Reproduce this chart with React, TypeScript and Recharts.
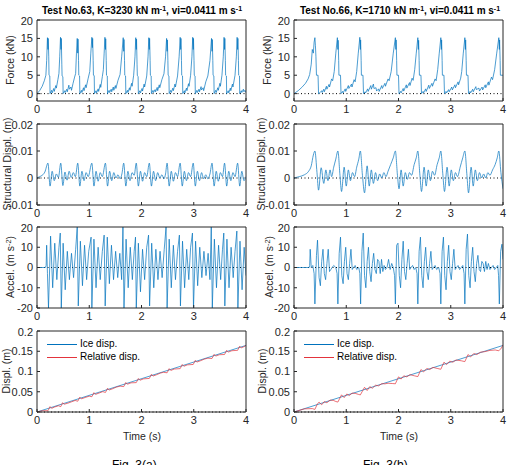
import { LineChart, Line, XAxis, YAxis, ReferenceLine } from "recharts"

type Pt = [number, number]

const FONT = "'Liberation Sans', Arial, sans-serif"
const BLUE = "#0072BD"
const RED = "#e3343c"
const AXIS = "#262626"

const T_TICKS = [0, 1, 2, 3, 4]
const FORCE_TICKS = [0, 5, 10, 15, 20]
const SDISP_TICKS = [-0.01, 0, 0.01, 0.02]
const ACC_TICKS = [-20, -10, 0, 10, 20]
const DISP_TICKS = [0, 0.05, 0.1, 0.15, 0.2]

// Test No.63 (left column)
const force63: Pt[] = [
  [0, 0], [0.05, 0.8], [0.1, 2], [0.14, 3.5], [0.17, 5], [0.185, 9], [0.2, 15.2], [0.21, 12], [0.215, 15], [0.225, 10], [0.23, 5], [0.245, 4.8], [0.25, 0],
  [0.28, 0.9], [0.29, 0.2], [0.32, 1.4], [0.33, 0.6], [0.36, 2.2], [0.37, 1.5], [0.4, 3.8], [0.42, 5.5], [0.435, 10], [0.45, 15.3], [0.46, 12], [0.465, 15], [0.475, 8], [0.48, 4.8], [0.495, 4.6], [0.5, 0],
  [0.53, 0.8], [0.54, 0.3], [0.57, 1.2], [0.58, 0.5], [0.61, 2.3], [0.62, 1.2], [0.65, 1.8], [0.66, 0.9], [0.69, 2.8], [0.72, 4.5], [0.74, 5.5], [0.755, 11], [0.77, 15], [0.78, 11], [0.785, 14.8], [0.795, 9], [0.8, 5], [0.815, 4.8], [0.82, 0],
  [0.85, 0.9], [0.86, 0.3], [0.89, 1.6], [0.9, 0.8], [0.93, 2.4], [0.94, 1.6], [0.98, 4.2], [1.01, 6], [1.03, 11], [1.05, 15.3], [1.06, 12.5], [1.065, 15], [1.075, 9], [1.08, 5], [1.095, 4.9], [1.1, 0],
  [1.13, 0.8], [1.14, 0.2], [1.17, 1.3], [1.18, 0.6], [1.21, 2.5], [1.22, 1.7], [1.25, 4.6], [1.27, 6.5], [1.285, 11], [1.3, 15.3], [1.31, 12], [1.315, 14.9], [1.325, 9], [1.33, 5], [1.345, 4.8], [1.35, 0],
  [1.38, 0.9], [1.39, 0.3], [1.42, 1.2], [1.43, 0.5], [1.46, 1.8], [1.47, 0.9], [1.5, 2.2], [1.51, 1.4], [1.55, 3.6], [1.59, 5.2], [1.62, 10], [1.65, 15.2], [1.66, 11.5], [1.665, 14.7], [1.675, 9], [1.68, 5], [1.695, 4.8], [1.7, 0],
  [1.73, 0.9], [1.74, 0.3], [1.77, 1.6], [1.78, 0.9], [1.81, 2.8], [1.82, 2], [1.85, 5], [1.875, 10], [1.89, 15.2], [1.9, 12], [1.905, 14.8], [1.915, 8], [1.92, 4.9], [1.935, 4.7], [1.94, 0],
  [1.97, 0.8], [1.98, 0.2], [2.01, 1.4], [2.02, 0.7], [2.05, 2.6], [2.06, 1.8], [2.1, 4.8], [2.125, 10], [2.14, 15.2], [2.15, 12], [2.155, 15], [2.165, 9], [2.17, 5], [2.185, 4.8], [2.19, 0],
  [2.22, 0.9], [2.23, 0.3], [2.26, 1.1], [2.27, 0.5], [2.3, 1.7], [2.31, 0.8], [2.34, 2.4], [2.35, 1.6], [2.39, 3.8], [2.43, 5.4], [2.46, 10], [2.48, 15], [2.49, 11.5], [2.495, 14.6], [2.505, 9], [2.51, 5], [2.525, 4.8], [2.53, 0],
  [2.56, 0.9], [2.57, 0.3], [2.6, 1.5], [2.61, 0.8], [2.64, 2.6], [2.65, 1.8], [2.69, 4.8], [2.72, 10], [2.74, 15.3], [2.75, 12], [2.755, 15], [2.765, 9], [2.77, 5], [2.785, 4.8], [2.79, 0],
  [2.82, 0.8], [2.83, 0.2], [2.86, 1.5], [2.87, 0.8], [2.9, 2.7], [2.91, 2], [2.94, 5], [2.965, 10], [2.98, 15.3], [2.99, 12], [2.995, 15], [3.005, 9], [3.01, 5], [3.025, 4.8], [3.03, 0],
  [3.06, 0.9], [3.07, 0.3], [3.1, 1.2], [3.11, 0.5], [3.14, 1.9], [3.15, 1], [3.18, 1.6], [3.19, 0.8], [3.23, 3.2], [3.27, 4.8], [3.31, 9], [3.34, 15], [3.35, 11.5], [3.355, 14.7], [3.365, 9], [3.37, 5], [3.385, 4.8], [3.39, 0],
  [3.42, 0.9], [3.43, 0.3], [3.46, 1.6], [3.47, 0.9], [3.5, 2.8], [3.51, 2], [3.54, 5], [3.565, 10], [3.58, 15.3], [3.59, 12], [3.595, 15], [3.605, 9], [3.61, 5], [3.625, 4.8], [3.63, 0],
  [3.66, 0.8], [3.67, 0.2], [3.7, 1.5], [3.71, 0.8], [3.74, 2.6], [3.75, 1.8], [3.79, 5], [3.815, 10], [3.83, 15.3], [3.84, 12], [3.845, 15], [3.855, 9], [3.86, 5], [3.875, 4.8], [3.88, 0],
  [3.91, 0.8], [3.92, 0.3], [3.95, 1.2], [3.96, 0.5], [3.98, 0.9], [4, 0.3],
]

const sdisp63: Pt[] = [
  [0, 0], [0.05, 0.0005], [0.1, 0.001], [0.15, 0.0022], [0.21, 0.0055], [0.25, -0.003], [0.29, 0.0025], [0.33, -0.001], [0.37, 0.0015], [0.41, 0.0002],
  [0.455, 0.0055], [0.495, -0.0028], [0.535, 0.0022], [0.575, -0.0008], [0.615, 0.0025], [0.655, 0.0002], [0.695, 0.002], [0.735, 0.0005],
  [0.78, 0.0055], [0.82, -0.003], [0.86, 0.0025], [0.9, -0.001], [0.94, 0.002], [0.98, 0.0005],
  [1.05, 0.0055], [1.09, -0.003], [1.13, 0.0025], [1.17, -0.0012], [1.21, 0.002], [1.25, 0.0005],
  [1.31, 0.0055], [1.35, -0.003], [1.39, 0.0025], [1.43, -0.001], [1.47, 0.002], [1.51, 0], [1.55, 0.0012], [1.59, -0.0003], [1.625, 0.0015],
  [1.66, 0.0055], [1.7, -0.003], [1.74, 0.0025], [1.78, -0.001], [1.82, 0.002], [1.86, 0.001],
  [1.9, 0.0055], [1.94, -0.003], [1.98, 0.0025], [2.02, -0.0012], [2.06, 0.002], [2.1, 0.0005],
  [2.15, 0.0055], [2.19, -0.003], [2.23, 0.0025], [2.27, -0.001], [2.31, 0.002], [2.35, 0], [2.39, 0.0012], [2.43, -0.0003], [2.46, 0.0015],
  [2.49, 0.0055], [2.53, -0.003], [2.57, 0.0025], [2.61, -0.0012], [2.65, 0.002], [2.69, 0.0005],
  [2.74, 0.0055], [2.78, -0.003], [2.82, 0.0025], [2.86, -0.001], [2.9, 0.002], [2.94, 0.0005],
  [2.99, 0.0055], [3.03, -0.003], [3.07, 0.0025], [3.11, -0.001], [3.15, 0.002], [3.19, -0.0003], [3.23, 0.0012], [3.27, -0.0003], [3.31, 0.0015],
  [3.35, 0.0055], [3.39, -0.003], [3.43, 0.0025], [3.47, -0.0012], [3.51, 0.002], [3.55, 0.0005],
  [3.59, 0.0055], [3.63, -0.003], [3.67, 0.0025], [3.71, -0.001], [3.75, 0.002], [3.79, 0.0005],
  [3.84, 0.0055], [3.88, -0.003], [3.92, 0.0025], [3.96, -0.001], [4, 0.0005],
]

const accel63: Pt[] = [
  [0, 0], [0.16, 0], [0.175, 1], [0.185, 11], [0.2, -3], [0.22, -20], [0.26, 15.5], [0.3, -10], [0.34, 12], [0.38, -6], [0.42, 10],
  [0.445, 17], [0.465, -20], [0.5, 12], [0.54, -11], [0.58, 8], [0.62, -6], [0.66, 7], [0.7, -5], [0.74, 9],
  [0.77, 20], [0.79, -19], [0.83, 13], [0.87, -9], [0.91, 11], [0.95, -6], [0.99, 8],
  [1.035, 15], [1.05, -20], [1.09, 14], [1.13, -10], [1.17, 10], [1.21, -6], [1.25, 8],
  [1.285, 16], [1.305, -19], [1.345, 15], [1.385, -8], [1.425, 11], [1.465, -6], [1.505, 8], [1.545, -5], [1.585, 7], [1.62, -6],
  [1.645, 20], [1.665, -20], [1.705, 14], [1.745, -10], [1.785, 10], [1.825, -6], [1.86, 8],
  [1.885, 15], [1.9, -20], [1.94, 12], [1.98, -12], [2.02, 9], [2.06, -6], [2.1, 10],
  [2.135, 16], [2.155, -19], [2.195, 12], [2.235, -10], [2.275, 9], [2.315, -6], [2.355, 8], [2.395, -5], [2.435, 9],
  [2.47, 20], [2.49, -20], [2.53, 14], [2.57, -10], [2.61, 11], [2.65, -6], [2.69, 8],
  [2.725, 16], [2.745, -19], [2.785, 13], [2.825, -10], [2.865, 9], [2.905, -6], [2.94, 10],
  [2.975, 17], [2.995, -20], [3.035, 13], [3.075, -9], [3.115, 10], [3.155, -5], [3.195, 8], [3.235, -4], [3.275, 7], [3.31, -6],
  [3.335, 20], [3.355, -20], [3.395, 14], [3.435, -10], [3.475, 11], [3.515, -6], [3.55, 9],
  [3.575, 17], [3.595, -19], [3.635, 14], [3.675, -10], [3.715, 10], [3.755, -5], [3.79, 8],
  [3.825, 18], [3.845, -20], [3.885, 13], [3.925, -11], [3.965, 10], [4, -4],
]

const ice63: Pt[] = [[0, 0], [4, 0.1644]]

const rel63: Pt[] = [
  [0, 0], [0.1, 0.0031], [0.21, 0.0031], [0.25, 0.0133], [0.28, 0.009], [0.34, 0.0125], [0.41, 0.0154], [0.455, 0.0132], [0.49, 0.0229], [0.52, 0.0192],
  [0.59, 0.0217], [0.66, 0.0251], [0.73, 0.0285], [0.78, 0.0266], [0.82, 0.0367], [0.85, 0.0324], [0.92, 0.0358], [1, 0.0391], [1.05, 0.0377], [1.09, 0.0478],
  [1.12, 0.0435], [1.19, 0.0469], [1.26, 0.0503], [1.31, 0.0483], [1.35, 0.0585], [1.38, 0.0542], [1.45, 0.0576], [1.52, 0.0615], [1.59, 0.0638], [1.66, 0.0627],
  [1.7, 0.0729], [1.73, 0.0686], [1.8, 0.072], [1.9, 0.0726], [1.94, 0.0827], [1.97, 0.0785], [2.04, 0.0818], [2.15, 0.0829], [2.19, 0.093], [2.22, 0.0887],
  [2.29, 0.0921], [2.36, 0.096], [2.42, 0.098], [2.49, 0.0968], [2.53, 0.107], [2.56, 0.1027], [2.63, 0.1061], [2.74, 0.1071], [2.78, 0.1173], [2.81, 0.113],
  [2.88, 0.1164], [2.99, 0.1174], [3.03, 0.1275], [3.06, 0.1233], [3.13, 0.1266], [3.2, 0.1305], [3.27, 0.1329], [3.35, 0.1322], [3.39, 0.1423], [3.42, 0.1381],
  [3.49, 0.1414], [3.59, 0.142], [3.63, 0.1522], [3.66, 0.1479], [3.73, 0.1513], [3.84, 0.1523], [3.88, 0.1625], [3.91, 0.1582], [3.98, 0.1626], [4, 0.1644],
]

// Test No.66 (right column)
const force66: Pt[] = [
  [0, 0], [0.08, 0.8], [0.15, 1.7], [0.22, 2.8], [0.27, 4], [0.3, 5.2], [0.33, 8], [0.35, 12], [0.37, 11], [0.385, 14], [0.4, 15.2], [0.41, 13], [0.42, 10], [0.43, 5], [0.46, 5], [0.47, 0],
  [0.5, 0.3], [0.53, 0.8], [0.54, 0.3], [0.57, 1.2], [0.58, 0.5], [0.62, 2], [0.63, 1.2], [0.67, 2.5], [0.68, 1.8], [0.72, 4], [0.74, 3.5], [0.77, 6], [0.8, 11], [0.83, 15.2], [0.84, 12], [0.845, 14.5], [0.855, 9], [0.86, 5], [0.89, 5], [0.9, 0],
  [0.93, 0.6], [0.94, 0.2], [0.98, 1.3], [0.99, 0.6], [1.04, 2.2], [1.05, 1.4], [1.1, 2.6], [1.11, 1.8], [1.15, 3.8], [1.17, 3.2], [1.2, 6], [1.23, 11], [1.26, 15.3], [1.27, 12], [1.275, 14.6], [1.285, 9], [1.29, 5], [1.32, 5], [1.33, 0],
  [1.36, 0.5], [1.37, 0.2], [1.41, 1.3], [1.42, 0.6], [1.47, 2.2], [1.48, 1.2], [1.52, 2.6], [1.53, 1.4], [1.57, 1.6], [1.58, 0.7], [1.62, 1.3], [1.63, 0.6], [1.68, 2.2], [1.69, 1.4], [1.74, 2.8], [1.75, 2], [1.8, 4], [1.82, 3.5], [1.86, 6], [1.9, 11], [1.94, 15.2], [1.95, 12], [1.955, 14.6], [1.965, 9], [1.97, 5], [2, 5], [2.01, 0],
  [2.04, 0.6], [2.05, 0.2], [2.09, 1.4], [2.1, 0.7], [2.15, 2.4], [2.16, 1.5], [2.21, 3], [2.22, 2.2], [2.26, 4.2], [2.28, 3.6], [2.31, 6.5], [2.34, 11], [2.37, 15.2], [2.38, 12], [2.385, 14.5], [2.395, 9], [2.4, 5], [2.43, 5], [2.44, 0],
  [2.47, 0.6], [2.48, 0.2], [2.52, 1.3], [2.53, 0.6], [2.58, 2.3], [2.59, 1.4], [2.64, 2.8], [2.65, 2], [2.7, 4], [2.72, 3.5], [2.75, 6.5], [2.78, 11], [2.81, 15.2], [2.82, 12], [2.825, 14.6], [2.835, 9], [2.84, 5], [2.87, 5], [2.88, 0],
  [2.91, 0.6], [2.92, 0.2], [2.96, 1.1], [2.97, 0.5], [3.02, 1.8], [3.03, 1], [3.08, 2.4], [3.09, 1.6], [3.14, 3.2], [3.15, 2.4], [3.19, 4.2], [3.21, 6], [3.24, 11], [3.27, 15.2], [3.28, 12], [3.285, 14.6], [3.295, 9], [3.3, 5], [3.33, 5], [3.34, 0],
  [3.37, 0.6], [3.38, 0.2], [3.42, 1.2], [3.43, 0.5], [3.48, 1.9], [3.49, 1.1], [3.54, 1.5], [3.55, 0.7], [3.6, 1.8], [3.61, 1], [3.66, 2.4], [3.67, 1.6], [3.72, 3.2], [3.73, 2.3], [3.78, 4.5], [3.8, 3.8], [3.84, 6.5], [3.88, 11], [3.92, 15.2], [3.93, 12], [3.935, 14.6], [3.945, 9], [3.95, 5], [4, 5],
]

const sdisp66: Pt[] = [
  [0, 0], [0.1, 0.0005], [0.2, 0.0012], [0.28, 0.0025], [0.33, 0.0045], [0.37, 0.0085], [0.4, 0.01], [0.44, 0.002], [0.47, -0.0045], [0.52, 0.0038], [0.57, -0.002], [0.61, 0.003], [0.65, -0.001], [0.69, 0.003], [0.72, 0.0005], [0.76, 0.004], [0.8, 0.007],
  [0.84, 0.01], [0.88, 0.001], [0.91, -0.005], [0.96, 0.004], [1, -0.003], [1.04, 0.003], [1.08, -0.001], [1.12, 0.002], [1.16, 0.0005], [1.2, 0.004], [1.24, 0.007],
  [1.27, 0.01], [1.31, 0.001], [1.35, -0.0055], [1.4, 0.0045], [1.44, -0.003], [1.48, 0.003], [1.52, -0.002], [1.56, 0.002], [1.6, -0.001], [1.64, 0.0015], [1.68, 0], [1.72, 0.002], [1.76, 0.0005], [1.8, 0.0025], [1.85, 0.005], [1.9, 0.0075],
  [1.94, 0.01], [1.98, 0.001], [2.01, -0.004], [2.05, 0.003], [2.09, -0.003], [2.13, 0.002], [2.17, -0.0005], [2.21, 0.002], [2.25, 0.001], [2.3, 0.005], [2.34, 0.0075],
  [2.37, 0.01], [2.41, 0.001], [2.44, -0.005], [2.49, 0.004], [2.53, -0.003], [2.57, 0.003], [2.61, -0.001], [2.65, 0.0025], [2.69, 0.001], [2.74, 0.005], [2.78, 0.0075],
  [2.81, 0.01], [2.85, 0.001], [2.88, -0.005], [2.93, 0.004], [2.97, -0.003], [3.01, 0.003], [3.05, -0.001], [3.09, 0.002], [3.13, 0.0005], [3.18, 0.004], [3.23, 0.0075],
  [3.27, 0.01], [3.31, 0.001], [3.34, -0.0055], [3.39, 0.004], [3.43, -0.003], [3.47, 0.003], [3.51, -0.001], [3.55, 0.002], [3.59, 0], [3.63, 0.0015], [3.67, 0], [3.71, 0.002], [3.75, 0.001], [3.8, 0.003], [3.85, 0.005], [3.89, 0.0075],
  [3.92, 0.01], [3.96, 0.002], [4, -0.004],
]

const accel66: Pt[] = [
  [0, 0], [0.29, 0], [0.3, 1], [0.31, 9], [0.33, 0], [0.36, 1], [0.385, -3], [0.4, -18], [0.43, 6], [0.45, 13.5], [0.48, -5], [0.505, -9], [0.53, 3], [0.555, 9], [0.58, -3], [0.605, -6], [0.63, 2], [0.655, 9], [0.68, -2], [0.705, -1], [0.73, 0], [0.76, 1], [0.8, 0], [0.825, -3],
  [0.84, -18], [0.865, 7], [0.89, 15], [0.915, -4], [0.94, -8], [0.965, 3], [0.99, 10], [1.015, -3], [1.04, -6], [1.065, 2], [1.09, 9], [1.115, -1], [1.14, 0], [1.17, 1], [1.2, -1], [1.24, 0], [1.26, -3],
  [1.275, -18], [1.3, 8], [1.325, 17], [1.35, -4], [1.375, -10], [1.4, 3], [1.425, 10], [1.45, -2], [1.475, -7], [1.5, 2], [1.525, 7], [1.55, -1], [1.575, -3], [1.6, 4], [1.625, 3], [1.65, -3], [1.675, 4], [1.7, -2], [1.725, 1], [1.75, -1], [1.78, 0], [1.81, 4], [1.84, -1], [1.87, 2], [1.9, 0], [1.925, -4],
  [1.94, -18], [1.965, 11], [1.99, 12], [2.015, -4], [2.04, -10], [2.065, 4], [2.09, 13], [2.115, -2], [2.14, -6], [2.165, 2], [2.19, 9], [2.215, -1], [2.24, 0], [2.27, 1], [2.3, -1], [2.33, 0], [2.355, -3],
  [2.37, -18], [2.395, 8], [2.42, 15], [2.445, -4], [2.47, -10], [2.495, 3], [2.52, 10], [2.545, -2], [2.57, -6], [2.595, 2], [2.62, 8], [2.645, -1], [2.67, 0], [2.7, 1], [2.73, -1], [2.77, 0], [2.795, -3],
  [2.81, -18], [2.835, 8], [2.86, 15], [2.885, -4], [2.91, -11], [2.935, 3], [2.96, 11], [2.985, -2], [3.01, -6], [3.035, 2], [3.06, 9], [3.085, -1], [3.11, 0], [3.14, 1], [3.17, -1], [3.2, 0], [3.23, 1], [3.255, -3],
  [3.27, -18], [3.295, 9], [3.32, 16.5], [3.345, -4], [3.37, -10], [3.395, 3], [3.42, 10], [3.445, -2], [3.47, -7], [3.495, 2], [3.52, 6], [3.545, -1], [3.57, -2], [3.595, 3], [3.62, 2], [3.645, -2], [3.67, 3], [3.695, -1], [3.72, 2], [3.75, -1], [3.78, 0], [3.81, 1], [3.84, -1], [3.87, 0], [3.9, 1], [3.915, -4],
  [3.93, -18], [3.955, 8], [3.98, 11.5], [4, 4],
]

const ice66: Pt[] = [[0, 0], [4, 0.1644]]

const rel66: Pt[] = [
  [0, 0], [0.2, 0.0078], [0.35, 0.0084], [0.4, 0.0064], [0.45, 0.0205], [0.48, 0.0242], [0.53, 0.0178], [0.58, 0.0258], [0.63, 0.0229], [0.69, 0.0294], [0.75, 0.0288], [0.8, 0.0259],
  [0.84, 0.0245], [0.91, 0.0424], [0.96, 0.0355], [1.01, 0.0445], [1.06, 0.0406], [1.11, 0.0466], [1.17, 0.0461], [1.23, 0.0436], [1.27, 0.0422], [1.35, 0.061], [1.4, 0.053],
  [1.45, 0.0626], [1.5, 0.0587], [1.56, 0.0661], [1.62, 0.0646], [1.68, 0.07], [1.74, 0.0695], [1.8, 0.071], [1.88, 0.0703], [1.94, 0.0697], [2, 0.0867], [2.05, 0.0813],
  [2.1, 0.0893], [2.16, 0.0868], [2.22, 0.0922], [2.3, 0.0895], [2.37, 0.0874], [2.43, 0.1049], [2.48, 0.0989], [2.54, 0.1074], [2.6, 0.1049], [2.66, 0.1103], [2.74, 0.1076],
  [2.81, 0.1055], [2.87, 0.123], [2.92, 0.117], [2.98, 0.1255], [3.04, 0.1229], [3.1, 0.1284], [3.2, 0.1265], [3.27, 0.1244], [3.33, 0.1419], [3.38, 0.1359], [3.44, 0.1444],
  [3.5, 0.1419], [3.57, 0.1477], [3.65, 0.149], [3.75, 0.1521], [3.85, 0.1532], [3.92, 0.1511], [3.97, 0.158], [4, 0.166],
]

const toRows = (pts: Pt[]) => pts.map(([t, v]) => ({ t, v }))

type Series = { data: Pt[]; color: string; smooth?: boolean }

function Panel(props: {
  x: number
  plotTop: number
  yw: number
  rw: number
  domain: [number, number]
  ticks: number[]
  series: Series[]
}) {
  const { x, plotTop, yw, rw, domain, ticks, series } = props
  const h = 81
  return (
    <div style={{ position: "absolute", left: x, top: plotTop - 5 }}>
      <LineChart width={254} height={h + 25} margin={{ top: 0, right: 0, bottom: 0, left: 0 }}>
        <XAxis
          xAxisId="b"
          dataKey="t"
          type="number"
          domain={[0, 4]}
          ticks={T_TICKS}
          allowDataOverflow
          height={20}
          tickSize={-3}
          tickMargin={7}
          stroke={AXIS}
          tick={{ fill: AXIS, fontSize: 11, fontFamily: FONT }}
        />
        <XAxis xAxisId="top" orientation="top" dataKey="t" type="number" domain={[0, 4]} ticks={T_TICKS} height={5} tickSize={-3} tick={false} stroke={AXIS} />
        <YAxis
          yAxisId="l"
          type="number"
          domain={domain}
          ticks={ticks}
          allowDataOverflow
          width={yw}
          tickSize={-3}
          tickMargin={7}
          stroke={AXIS}
          tick={{ fill: AXIS, fontSize: 11, fontFamily: FONT }}
        />
        <YAxis yAxisId="r" orientation="right" type="number" domain={domain} ticks={ticks} allowDataOverflow width={rw} tickSize={-3} tick={false} stroke={AXIS} />
        <ReferenceLine xAxisId="b" yAxisId="l" y={0} stroke="#000" strokeWidth={1} strokeDasharray="1 2.5" />
        {series.map((s, i) => (
          <Line
            key={i}
            xAxisId="b"
            yAxisId="l"
            data={toRows(s.data)}
            dataKey="v"
            type={s.smooth ? "monotone" : "linear"}
            stroke={s.color}
            strokeWidth={0.7}
            dot={false}
            isAnimationActive={false}
          />
        ))}
      </LineChart>
    </div>
  )
}

const txt = { position: "absolute" as const, fontFamily: FONT, color: AXIS, whiteSpace: "nowrap" as const }

function YLabel({ cx, cy, children }: { cx: number; cy: number; children: any }) {
  return (
    <div style={{ ...txt, left: cx, top: cy, fontSize: 10.5, transform: "translate(-50%, -50%) rotate(-90deg)" }}>{children}</div>
  )
}

function Title({ cx, children }: { cx: number; children: any }) {
  return (
    <div style={{ ...txt, left: cx, top: 5, fontSize: 10, fontWeight: "bold", color: "#000", transform: "translateX(-50%)" }}>{children}</div>
  )
}

function LegendBox({ x, y }: { x: number; y: number }) {
  const row = (color: string, label: string, dy: number) => (
    <div style={{ position: "absolute", left: x, top: y + dy, display: "flex", alignItems: "center" }}>
      <div style={{ width: 30, height: 1, background: color }} />
      <span style={{ fontFamily: FONT, fontSize: 10, color: "#000", marginLeft: 3, lineHeight: "12px" }}>{label}</span>
    </div>
  )
  return (
    <>
      {row(BLUE, "Ice disp.", 0)}
      {row(RED, "Relative disp.", 13)}
    </>
  )
}

const sup = { fontSize: "0.7em", verticalAlign: "0.45em" }

export default function App() {
  const rowTops = [20, 124, 227, 331]
  const L = { x: 0, yw: 37, rw: 8 }
  const R = { x: 254, yw: 40, rw: 5 }
  return (
    <div style={{ position: "absolute", left: 0, top: 0, width: 508, height: 465, background: "#fff", overflow: "hidden" }}>
      <Title cx={142}>
        Test No.63, K=3230 kN m<span style={sup}>-1</span>, vi=0.0411 m s<span style={sup}>-1</span>
      </Title>
      <Title cx={400}>
        Test No.66, K=1710 kN m<span style={sup}>-1</span>, vi=0.0411 m s<span style={sup}>-1</span>
      </Title>

      <Panel {...L} plotTop={rowTops[0]} domain={[-2, 20]} ticks={FORCE_TICKS} series={[{ data: force63, color: BLUE }]} />
      <Panel {...R} plotTop={rowTops[0]} domain={[-2, 20]} ticks={FORCE_TICKS} series={[{ data: force66, color: BLUE }]} />
      <Panel {...L} plotTop={rowTops[1]} domain={[-0.01, 0.02]} ticks={SDISP_TICKS} series={[{ data: sdisp63, color: BLUE, smooth: true }]} />
      <Panel {...R} plotTop={rowTops[1]} domain={[-0.01, 0.02]} ticks={SDISP_TICKS} series={[{ data: sdisp66, color: BLUE, smooth: true }]} />
      <Panel {...L} plotTop={rowTops[2]} domain={[-20, 20]} ticks={ACC_TICKS} series={[{ data: accel63, color: BLUE }]} />
      <Panel {...R} plotTop={rowTops[2]} domain={[-20, 20]} ticks={ACC_TICKS} series={[{ data: accel66, color: BLUE }]} />
      <Panel {...L} plotTop={rowTops[3]} domain={[0, 0.2]} ticks={DISP_TICKS} series={[{ data: ice63, color: BLUE }, { data: rel63, color: RED }]} />
      <Panel {...R} plotTop={rowTops[3]} domain={[0, 0.2]} ticks={DISP_TICKS} series={[{ data: ice66, color: BLUE }, { data: rel66, color: RED }]} />

      <YLabel cx={10} cy={60}>Force (kN)</YLabel>
      <YLabel cx={267} cy={60}>Force (kN)</YLabel>
      <YLabel cx={7} cy={164}>Structural Displ. (m)</YLabel>
      <YLabel cx={261} cy={164}>Structural Displ. (m)</YLabel>
      <YLabel cx={10} cy={267}>
        Accel. (m s<span style={sup}>-2</span>)
      </YLabel>
      <YLabel cx={269} cy={267}>
        Accel. (m s<span style={sup}>-2</span>)
      </YLabel>
      <YLabel cx={6} cy={371}>Displ. (m)</YLabel>
      <YLabel cx={262} cy={371}>Displ. (m)</YLabel>

      <LegendBox x={47} y={338} />
      <LegendBox x={304} y={338} />

      <div style={{ ...txt, left: 142, top: 430, fontSize: 10.5, transform: "translateX(-50%)" }}>Time (s)</div>
      <div style={{ ...txt, left: 399, top: 430, fontSize: 10.5, transform: "translateX(-50%)" }}>Time (s)</div>

      <div style={{ ...txt, left: 112, top: 458, fontSize: 12, color: "#000" }}>Fig. 3(a)</div>
      <div style={{ ...txt, left: 363, top: 458, fontSize: 12, color: "#000" }}>Fig. 3(b)</div>
    </div>
  )
}
